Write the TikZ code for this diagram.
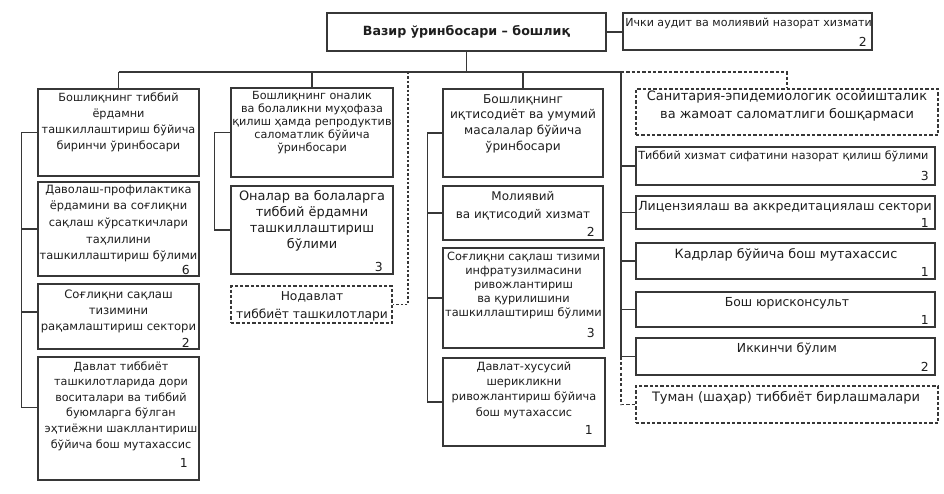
\documentclass[tikz,border=0pt]{standalone}
\usepackage{fontspec}
\setmainfont{DejaVu Sans}
\usetikzlibrary{fit}
\definecolor{lc}{RGB}{55,55,55}
\definecolor{tc}{RGB}{30,30,30}
\newcommand\myfs[2]{\fontsize{#1}{#2}\selectfont}
\begin{document}
\begin{tikzpicture}[x=0.75pt,y=-0.75pt,
 box/.style={draw=lc, line width=0.9pt, inner sep=0pt},
 dbox/.style={box, dash pattern=on 2.4pt off 1.6pt},
 ln/.style={draw=lc, line width=0.9pt},
 dln/.style={ln, dash pattern=on 2.4pt off 1.6pt},
 dotln/.style={ln, dash pattern=on 1.8pt off 1.5pt},
 tx/.style={text=tc, align=center, inner sep=0pt},
 num/.style={text=tc, inner sep=0pt, anchor=east, font=\myfs{9.3}{11}},
]
\path[fill=white] (0,0) rectangle (944,493);
\useasboundingbox (0,0) rectangle (944,493);

% top
\node[box, line width=1.5pt, fit={(327,13) (606,51)}] (main) {};
\node[tx, font=\bfseries\myfs{9.5}{12}] (maint) at (466.5,32) {Вазир ўринбосари – бошлиқ};
\node[box, fit={(623,13) (872,50)}] (aud) {};
\node[tx, anchor=west, font=\myfs{8.3}{10}] (audt) at (625,23) {Ички аудит ва молиявий назорат хизмати};
\node[num] (audn) at (867,42) {2};

% column 1
\node[box, fit={(38,89) (199,176)}] (a1) {};
\node[tx, font=\myfs{8.45}{12}] (a1t) at (118.5,122) {Бошлиқнинг тиббий\\ёрдамни\\ташкиллаштириш бўйича\\биринчи ўринбосари};
\node[box, fit={(38,182) (199,276)}] (a2) {};
\node[tx, font=\myfs{8.55}{12.5}] (a2t) at (118.5,223.5) {Даволаш-профилактика\\ёрдамини ва соғлиқни\\сақлаш кўрсаткичлари\\таҳлилини\\ташкиллаштириш бўлими};
\node[num] (a2n) at (190,270) {6};
\node[box, fit={(38,284) (199,349)}] (a3) {};
\node[tx, font=\myfs{8.7}{12}] (a3t) at (118.5,311) {Соғлиқни сақлаш\\тизимини\\рақамлаштириш сектори};
\node[num] (a3n) at (190,343) {2};
\node[box, fit={(38,357) (199,480)}] (a4) {};
\node[tx, font=\myfs{8.4}{11.7}] (a4t) at (121,406) {Давлат тиббиёт\\ташкилотларида дори\\воситалари ва тиббий\\буюмларга бўлган\\эҳтиёжни шакллантириш\\бўйича бош мутахассис};
\node[num] (a4n) at (188,463) {1};

% column 2
\node[box, fit={(231,88) (393,177)}] (b1) {};
\node[tx, font=\myfs{8.4}{9.6}] (b1t) at (312,122.5) {Бошлиқнинг оналик\\ва болаликни муҳофаза\\қилиш ҳамда репродуктив\\саломатлик бўйича\\ўринбосари};
\node[box, fit={(231,186) (393,274)}] (b2) {};
\node[tx, font=\myfs{9.7}{12}] (b2t) at (312,221) {Оналар ва болаларга\\тиббий ёрдамни\\ташкиллаштириш\\бўлими};
\node[num] (b2n) at (383,267) {3};
\node[dbox, fit={(231,286) (392,323)}] (b3) {};
\node[tx, font=\myfs{9.2}{13.5}] (b3t) at (312,306) {Нодавлат\\тиббиёт ташкилотлари};

% column 3
\node[box, fit={(443,89) (603,177)}] (c1) {};
\node[tx, font=\myfs{9.1}{11.8}] (c1t) at (523,123.5) {Бошлиқнинг\\иқтисодиёт ва умумий\\масалалар бўйича\\ўринбосари};
\node[box, fit={(443,186) (603,240)}] (c2) {};
\node[tx, font=\myfs{9}{13.5}] (c2t) at (523,206) {Молиявий\\ва иқтисодий хизмат};
\node[num] (c2n) at (595,232) {2};
\node[box, fit={(443,248) (604,348)}] (c3) {};
\node[tx, font=\myfs{8.5}{10.5}] (c3t) at (523.5,285) {Соғлиқни сақлаш тизими\\инфратузилмасини\\ривожлантириш\\ва қурилишини\\ташкиллаштириш бўлими};
\node[num] (c3n) at (595,333) {3};
\node[box, fit={(443,358) (605,446)}] (c4) {};
\node[tx, font=\myfs{8.5}{11.5}] (c4t) at (524,390) {Давлат-хусусий\\шерикликни\\ривожлантириш бўйича\\бош мутахассис};
\node[num] (c4n) at (593,430) {1};

% column 4
\node[dbox, fit={(636,89) (938,135)}] (d0) {};
\node[tx, font=\myfs{9.7}{13.5}] (d0t) at (787,106) {Санитария-эпидемиологик осойишталик\\ва жамоат саломатлиги бошқармаси};
\node[box, fit={(636,147) (935,185)}] (d1) {};
\node[tx, anchor=west, font=\myfs{8.4}{10}] (d1t) at (638,156) {Тиббий хизмат сифатини назорат қилиш бўлими};
\node[num] (d1n) at (929,176) {3};
\node[box, fit={(636,196) (935,229)}] (d2) {};
\node[tx, anchor=west, font=\myfs{9.4}{11}] (d2t) at (638,207) {Лицензиялаш ва аккредитациялаш сектори};
\node[num] (d2n) at (929,223) {1};
\node[box, fit={(636,243) (935,279)}] (d3) {};
\node[tx, font=\myfs{9.6}{11}] (d3t) at (786,255) {Кадрлар бўйича бош мутахассис};
\node[num] (d3n) at (929,272) {1};
\node[box, fit={(636,292) (935,327)}] (d4) {};
\node[tx, font=\myfs{9.3}{11}] (d4t) at (787,303) {Бош юрисконсульт};
\node[num] (d4n) at (929,320) {1};
\node[box, fit={(636,338) (935,375)}] (d5) {};
\node[tx, font=\myfs{9.3}{11}] (d5t) at (787,349) {Иккинчи бўлим};
\node[num] (d5n) at (929,367) {2};
\node[dbox, fit={(636,386) (938,423)}] (d6) {};
\node[tx, font=\myfs{9.75}{11}] (d6t) at (786,398) {Туман (шаҳар) тиббиёт бирлашмалари};

% connectors
\coordinate (busL) at (118.5,72);
\coordinate (busR) at (621,72);
\coordinate (dotT) at (408,72);
\draw[ln] (main.east) -- (main.east -| aud.west);
\draw[ln] (main.south) -- (main.south |- busL);
\draw[ln] (busL) -- (busR);
\draw[ln] (a1.north |- busL) -- (a1.north);
\draw[ln] (b1.north |- busL) -- (b1.north);
\draw[ln] (c1.north |- busL) -- (c1.north);
\draw[dln] (busR) -| (d0.north);
\draw[dotln] (dotT) |- (b3.east);

\coordinate (a3w) at ([yshift=3.4pt]a3.west);
\coordinate (a4w) at ([yshift=8.5pt]a4.west);
\draw[ln] (a1.west) -- ++(-16,0) coordinate (s1) |- (a4w);
\draw[ln] (s1 |- a2.west) -- (a2.west);
\draw[ln] (s1 |- a3w) -- (a3w);

\draw[ln] (b1.west) -- ++(-16,0) |- (b2.west);

\draw[ln] (c1.west) -- ++(-15,0) coordinate (s3) |- (c4.west);
\draw[ln] (s3 |- c2.west) -- (c2.west);
\draw[ln] (s3 |- c3.west) -- (c3.west);

\draw[ln] (busR) |- (d5.west);
\draw[ln] (busR |- d1.west) -- (d1.west);
\draw[ln] (busR |- d2.west) -- (d2.west);
\draw[ln] (busR |- d3.west) -- (d3.west);
\draw[ln] (busR |- d4.west) -- (d4.west);
\draw[dln] (busR |- d5.west) |- (d6.west);
\end{tikzpicture}
\end{document}
